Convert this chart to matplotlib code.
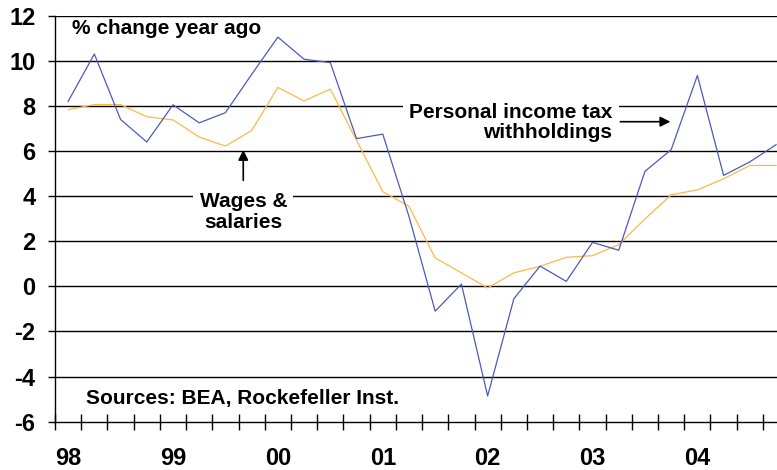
"""
Personal income tax withholdings vs wages & salaries, % change year ago
"""
import matplotlib
matplotlib.use("Agg")
import matplotlib.pyplot as plt
import numpy as np

plt.rcParams['font.family'] = ['Liberation Sans', 'DejaVu Sans']
plt.rcParams['font.weight'] = 'bold'
plt.rcParams['axes.unicode_minus'] = False

# quarterly data, 98Q1 - 04Q4
years = ["98", "99", "00", "01", "02", "03", "04"]
withholdings = [8.2, 10.3, 7.4, 6.4, 8.05, 7.25, 7.7, 9.4,
                11.05, 10.07, 9.92, 6.55, 6.75, 3.1, -1.1, 0.1,
                -4.86, -0.55, 0.9, 0.22, 1.95, 1.6, 5.1, 6.06,
                9.35, 4.92, 5.52, 6.28]
wages = [7.83, 8.06, 8.06, 7.52, 7.38, 6.62, 6.22, 6.91,
         8.82, 8.22, 8.75, 6.47, 4.2, 3.55, 1.26, 0.6,
         -0.07, 0.6, 0.89, 1.29, 1.36, 1.85, 2.99, 4.06,
         4.28, 4.77, 5.36, 5.36]

BLUE = '#4a5bbd'
ORANGE = '#fdb84a'

fig = plt.figure(figsize=(7.77, 4.70), dpi=100)
ax = fig.add_axes([0.0708, 0.1028, 0.93, 0.8638])

x = np.arange(len(withholdings))
ax.plot(x, wages, color=ORANGE, lw=0.9, zorder=3)
ax.plot(x, withholdings, color=BLUE, lw=0.9, zorder=4)

ax.set_yticks(np.arange(-6, 13, 2))
for v in np.arange(-4, 13, 2):
    ax.axhline(v, color='black', lw=1.0, zorder=1)

# quarter boundaries as ticks, year labels centered on Q1
ax.set_xticks(np.arange(-0.5, 28, 1))
ax.set_xticklabels([])
ax.set_xticks(np.arange(0, 28, 4), minor=True)
ax.set_xticklabels(years, minor=True)
ax.tick_params(axis='x', which='major', direction='inout', length=11, width=1)
ax.tick_params(axis='x', which='minor', length=0, pad=18, labelsize=17)
ax.tick_params(axis='y', direction='out', length=5, width=1, pad=9, labelsize=17)

# limits after ticks, chart is cut off at the right edge
ax.set_ylim(-6, 12)
ax.set_xlim(-0.5, 27.06)

for s in ['top', 'right']:
    ax.spines[s].set_visible(False)
ax.spines['left'].set_linewidth(1.0)
ax.spines['bottom'].set_linewidth(1.0)

ax.text(0.15, 11.45, "% change year ago", fontsize=15, fontweight='bold',
        ha='left', va='center', zorder=5)

# wages label + arrow
ax.text(6.68, 3.3, "Wages &\nsalaries", fontsize=15, fontweight='bold',
        ha='center', va='center', linespacing=1.1, zorder=5,
        bbox=dict(boxstyle='square,pad=0.3', fc='white', ec='none'))
ax.annotate("", xy=(6.68, 6.05), xytext=(6.68, 4.7),
            arrowprops=dict(arrowstyle='-|>', color='black', lw=1.2,
                            mutation_scale=15, shrinkA=0, shrinkB=0),
            zorder=5)

# withholdings label + arrow
ax.text(20.76, 7.27, "Personal income tax\nwithholdings", fontsize=15,
        fontweight='bold', ha='right', va='center', linespacing=1.1,
        multialignment='right', zorder=5,
        bbox=dict(boxstyle='square,pad=0.3', fc='white', ec='none'))
ax.annotate("", xy=(22.97, 7.3), xytext=(21.06, 7.3),
            arrowprops=dict(arrowstyle='-|>', color='black', lw=1.2,
                            mutation_scale=15, shrinkA=0, shrinkB=0),
            zorder=5)

ax.text(0.68, -4.97, "Sources: BEA, Rockefeller Inst.", fontsize=15,
        fontweight='bold', ha='left', va='center', zorder=5)

fig.savefig("out.png", dpi=100)
